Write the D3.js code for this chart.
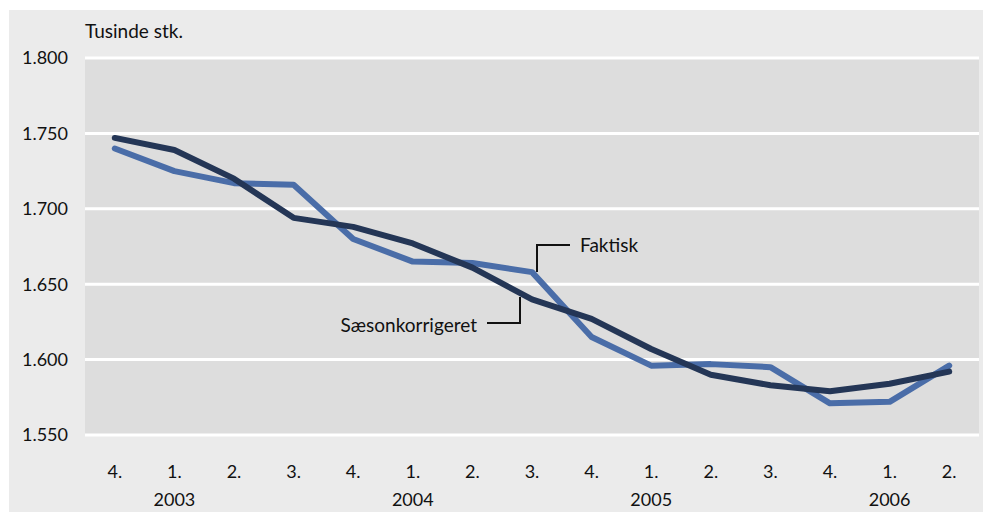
<!DOCTYPE html>
<html><head><meta charset="utf-8">
<script src="https://cdn.jsdelivr.net/npm/d3@7"></script>
<style>
html,body{margin:0;padding:0;background:#fff;}
text{font-family:Lato,"Open Sans",sans-serif;fill:#111;}
</style></head>
<body>
<svg id="chart" width="983" height="512"></svg>
<script>
const quarters = ["4.","1.","2.","3.","4.","1.","2.","3.","4.","1.","2.","3.","4.","1.","2."];
const yearLabels = [{idx:1,label:"2003"},{idx:5,label:"2004"},{idx:9,label:"2005"},{idx:13,label:"2006"}];
const faktisk = [1740,1725,1717,1716,1680,1665,1664,1658,1615,1596,1597,1595,1571,1572,1596];
const saeson  = [1747,1739,1720,1694,1688,1677,1661,1640,1627,1607,1590,1583,1579,1584,1592];
const yTicks = [1550,1600,1650,1700,1750,1800];
const yTickLabels = ["1.550","1.600","1.650","1.700","1.750","1.800"];

(function(){
const svg = d3.select("#chart");
const fs = 18, fl = 19;
svg.append("rect").attr("x",9).attr("y",10).attr("width",974).attr("height",502).attr("fill","#ebebeb");

const pL=85,pR=979,pT=58,pB=435;
svg.append("rect").attr("x",pL).attr("y",pT).attr("width",pR-pL).attr("height",pB-pT).attr("fill","#dddddd");

const x = d3.scaleBand().domain(d3.range(quarters.length)).range([pL,pR]);
const y = d3.scaleLinear().domain([1550,1800]).range([pB,pT]);
const cx = i => x(i)+x.bandwidth()/2;

svg.append("g").selectAll("line").data(yTicks).join("line")
  .attr("x1",pL).attr("x2",pR).attr("y1",d=>y(d)).attr("y2",d=>y(d))
  .attr("stroke","#fff").attr("stroke-width",3);

svg.append("g").selectAll("text").data(yTicks).join("text")
  .attr("x",68).attr("y",d=>y(d)).attr("dy","0.36em").attr("text-anchor","end")
  .attr("font-size",fs).text((d,i)=>yTickLabels[i]);

svg.append("text").attr("x",85).attr("y",38).attr("font-size",fl).text("Tusinde stk.");

svg.append("g").selectAll("text").data(quarters).join("text")
  .attr("x",(d,i)=>cx(i)).attr("y",478).attr("text-anchor","middle").attr("font-size",fs).text(d=>d);
svg.append("g").selectAll("text").data(yearLabels).join("text")
  .attr("x",d=>cx(d.idx)).attr("y",506).attr("text-anchor","middle").attr("font-size",fs).text(d=>d.label);

const line = d3.line().x((d,i)=>cx(i)).y(d=>y(d));
svg.append("path").datum(faktisk).attr("d",line).attr("fill","none")
  .attr("stroke","#4a6da8").attr("stroke-width",6).attr("stroke-linecap","round").attr("stroke-linejoin","round");
svg.append("path").datum(saeson).attr("d",line).attr("fill","none")
  .attr("stroke","#243656").attr("stroke-width",6).attr("stroke-linecap","round").attr("stroke-linejoin","round");

svg.append("path").attr("d","M537,272V245H570").attr("fill","none").attr("stroke","#111").attr("stroke-width",2);
svg.append("text").attr("x",580).attr("y",245).attr("dy","0.36em").attr("font-size",fl).text("Faktisk");
svg.append("path").attr("d","M487,323H520V297").attr("fill","none").attr("stroke","#111").attr("stroke-width",2);
svg.append("text").attr("x",477).attr("y",325).attr("dy","0.36em").attr("text-anchor","end").attr("font-size",fl).text("Sæsonkorrigeret");
})();
</script>
</body></html>
